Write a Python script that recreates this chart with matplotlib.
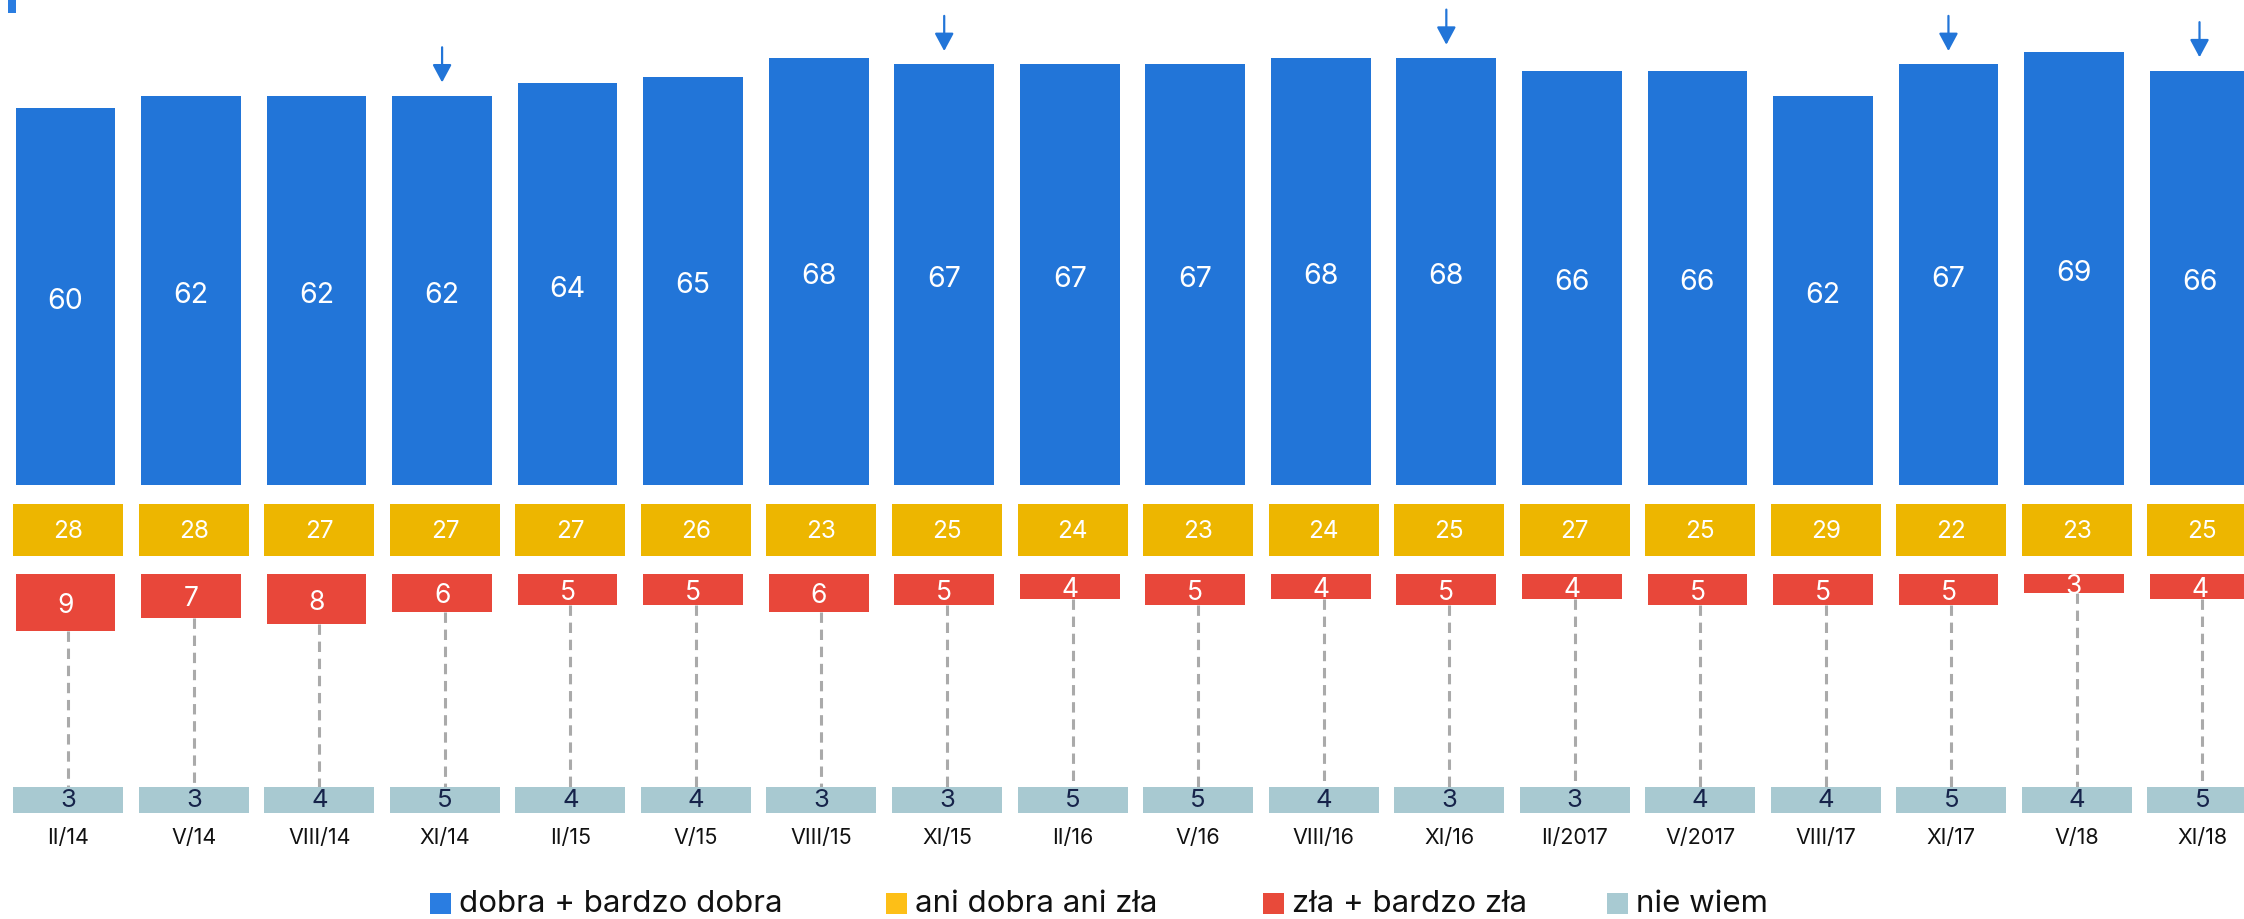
import matplotlib
matplotlib.use("Agg")
import matplotlib.pyplot as plt
from matplotlib.patches import Rectangle

plt.rcParams['font.family'] = ['Inter', 'DejaVu Sans']

# ---------------- data ----------------
labels = ['II/14', 'V/14', 'VIII/14', 'XI/14', 'II/15', 'V/15', 'VIII/15', 'XI/15',
          'II/16', 'V/16', 'VIII/16', 'XI/16', 'II/2017', 'V/2017', 'VIII/17', 'XI/17',
          'V/18', 'XI/18']
good = [60, 62, 62, 62, 64, 65, 68, 67, 67, 67, 68, 68, 66, 66, 62, 67, 69, 66]
neutral = [28, 28, 27, 27, 27, 26, 23, 25, 24, 23, 24, 25, 27, 25, 29, 22, 23, 25]
bad = [9, 7, 8, 6, 5, 5, 6, 5, 4, 5, 4, 5, 4, 5, 5, 5, 3, 4]
dunno = [3, 3, 4, 5, 4, 4, 3, 3, 5, 5, 4, 3, 3, 4, 4, 5, 4, 5]
marked = ['XI/14', 'XI/15', 'XI/16', 'XI/17', 'XI/18']
legend_names = ['dobra + bardzo dobra', 'ani dobra ani zła', 'zła + bardzo zła', 'nie wiem']

# ---------------- style ----------------
C_BLUE = '#2275d8'
C_YEL = '#edb600'
C_RED = '#e8473a'
C_GREY = '#a8c9d1'
LEG_COLORS = ['#2a7de1', '#fdbf17', '#e84a3a', '#a8cad2']

W, H, DPI = 2244, 919, 100
fig = plt.figure(figsize=(W / DPI, H / DPI), dpi=DPI)
ax = fig.add_axes([0, 0, 1, 1])
ax.axis('off')

PX = 6.28            # pixels per percentage point
PITCH = 125.53       # pixels between categories
X0 = 65.5            # pixel centre of first category
BASE = 485           # pixel (from top) of blue bar bottom

ax.set_xlim(-X0 / PITCH, (W - X0) / PITCH)
ax.set_ylim(-(H - BASE) / PX, BASE / PX)

def ypx(p):  # pixel-from-top -> data y
    return -(p - BASE) / PX

n = len(labels)
xs = list(range(n))
off = 2.8 / PITCH

# blue bars
ax.bar(xs, good, width=99.7 / PITCH, bottom=0, color=C_BLUE, linewidth=0)
for x, v in zip(xs, good):
    ax.text(x, v / 2 - 0.8, str(v), ha='center', va='center', color='white', fontsize=20.5)

# yellow boxes (fixed height)
y_top, y_bot = ypx(504), ypx(556)
ax.bar([x + off for x in xs], [y_top - y_bot] * n, width=110 / PITCH, bottom=y_bot,
       color=C_YEL, linewidth=0)
for x, v in zip(xs, neutral):
    ax.text(x + off, (y_top + y_bot) / 2 - 0.2, str(v), ha='center', va='center',
            color='white', fontsize=17.5)

# red bars (proportional, hanging down)
r_top = ypx(574)
ax.bar(xs, [-v for v in bad], width=99.7 / PITCH, bottom=r_top, color=C_RED, linewidth=0, zorder=3)
for x, v in zip(xs, bad):
    ax.text(x, r_top - v / 2 - 0.55, str(v), ha='center', va='center', color='white',
            fontsize=19, zorder=5)

# grey boxes
g_top, g_bot = ypx(787), ypx(813)
for x, v in zip(xs, bad):
    ax.plot([x + off, x + off], [r_top - v, g_top], color='#aaaaaa', lw=2.2,
            linestyle=(0, (3.4, 2.2)), zorder=2, solid_capstyle='butt')
ax.bar([x + off for x in xs], [g_top - g_bot] * n, width=110 / PITCH, bottom=g_bot,
       color=C_GREY, linewidth=0, zorder=3)
for x, v in zip(xs, dunno):
    ax.text(x + off, (g_top + g_bot) / 2 - 0.1, str(v), ha='center', va='center',
            color='#16234a', fontsize=18.5, zorder=5)

# category labels
for x, lab in zip(xs, labels):
    ax.text(x + off, ypx(838), lab, ha='center', va='center', color='#111111', fontsize=15.5)

# arrows above marked bars
for x, lab, v in zip(xs, labels, good):
    if lab in marked:
        tip = v + 2.1
        ax.annotate('', xy=(x, tip), xytext=(x, tip + 5.6),
                    arrowprops=dict(arrowstyle='-|>,head_length=0.54,head_width=0.29',
                                    mutation_scale=20, color=C_BLUE, lw=1.6,
                                    shrinkA=0, shrinkB=0))

# small cut-off mark top-left
fig.patches.append(Rectangle((8.3 / W, 1 - 13 / H), 7.4 / W, 13 / H,
                             transform=fig.transFigure, color=LEG_COLORS[0], lw=0))

# legend
sq_x = [430, 886, 1263, 1607]
for sx, name, col in zip(sq_x, legend_names, LEG_COLORS):
    fig.patches.append(Rectangle((sx / W, 1 - 913.7 / H), 21 / W, 21 / H,
                                 transform=fig.transFigure, color=col, lw=0))
    fig.text((sx + 29) / W, 1 - 904 / H, name, ha='left', va='center',
             fontsize=22.5, color='#111111')

fig.savefig('out.png', dpi=DPI)
